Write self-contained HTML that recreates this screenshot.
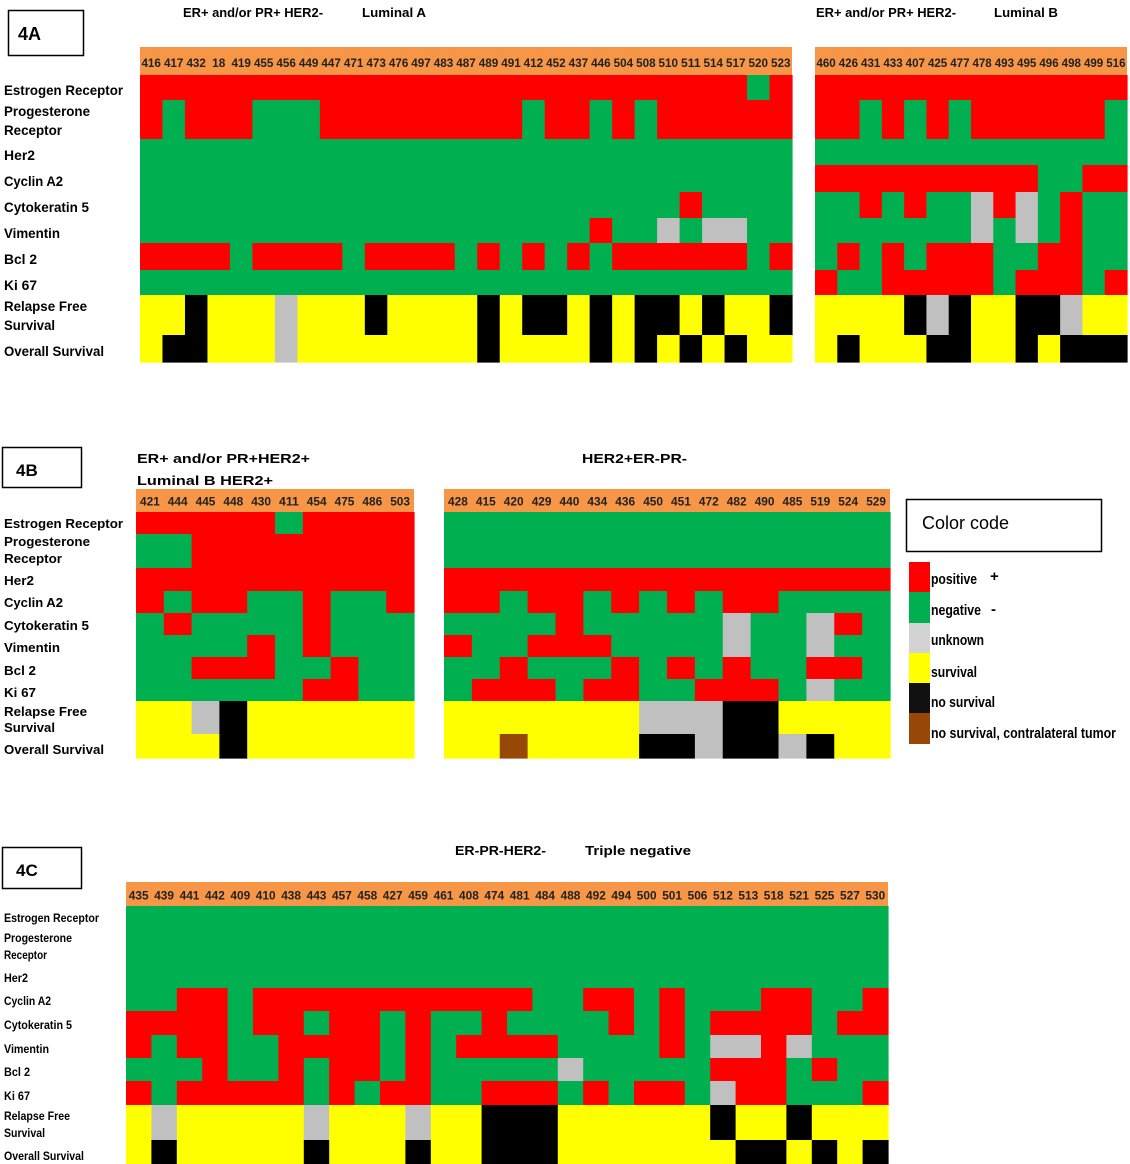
<!DOCTYPE html>
<html><head><meta charset="utf-8">
<style>
html,body{margin:0;padding:0;background:#fff;}
svg{display:block;font-family:"Liberation Sans",Arial,sans-serif;}
</style></head>
<body>
<svg id="s" width="1130" height="1164" viewBox="0 0 1130 1164" xmlns="http://www.w3.org/2000/svg">
<rect width="1130" height="1164" fill="#fff"/>
<!-- boxes -->
<rect x="8.5" y="10.5" width="75" height="45" fill="none" stroke="#000" stroke-width="1.5"/>
<text x="18" y="40" font-size="18" font-weight="bold">4A</text>
<rect x="2.5" y="447.5" width="79" height="40" fill="none" stroke="#000" stroke-width="1.5"/>
<text x="16" y="476" font-size="17" font-weight="bold">4B</text>
<rect x="2.5" y="847.5" width="79" height="41" fill="none" stroke="#000" stroke-width="1.5"/>
<text x="16" y="876" font-size="17" font-weight="bold">4C</text>
<!-- titles -->
<g font-size="13" font-weight="bold">
<text x="183" y="17" textLength="140" lengthAdjust="spacingAndGlyphs">ER+ and/or PR+ HER2-</text>
<text x="362" y="17" textLength="64" lengthAdjust="spacingAndGlyphs">Luminal A</text>
<text x="816" y="17" textLength="140" lengthAdjust="spacingAndGlyphs">ER+ and/or PR+ HER2-</text>
<text x="994" y="17" textLength="64" lengthAdjust="spacingAndGlyphs">Luminal B</text>
<text x="137" y="463" textLength="173" lengthAdjust="spacingAndGlyphs">ER+ and/or PR+HER2+</text>
<text x="137" y="485" textLength="136" lengthAdjust="spacingAndGlyphs">Luminal B HER2+</text>
<text x="582" y="463" textLength="105" lengthAdjust="spacingAndGlyphs">HER2+ER-PR-</text>
<text x="455" y="855" textLength="91" lengthAdjust="spacingAndGlyphs">ER-PR-HER2-</text>
<text x="585" y="855" textLength="106" lengthAdjust="spacingAndGlyphs">Triple negative</text>
</g>
<!-- legend -->
<rect x="906.5" y="499.5" width="195" height="52" fill="none" stroke="#000" stroke-width="1.5"/>
<text x="922" y="529" font-size="18">Color code</text>
<rect x="909" y="562" width="21" height="30" fill="#ff0000"/>
<rect x="909" y="592" width="21" height="31" fill="#00b050"/>
<rect x="909" y="623" width="21" height="30" fill="#d3d3d3"/>
<rect x="909" y="653" width="21" height="30" fill="#ffff00"/>
<rect x="909" y="683" width="21" height="30" fill="#111"/>
<rect x="909" y="713" width="21" height="31" fill="#974706"/>
<g font-size="15" font-weight="bold">
<text x="931" y="584" textLength="46" lengthAdjust="spacingAndGlyphs">positive</text>
<text x="990" y="581">+</text>
<text x="931" y="615" textLength="50" lengthAdjust="spacingAndGlyphs">negative</text>
<text x="991" y="614">-</text>
<text x="931" y="645" textLength="53" lengthAdjust="spacingAndGlyphs">unknown</text>
<text x="931" y="677" textLength="46" lengthAdjust="spacingAndGlyphs">survival</text>
<text x="931" y="707" textLength="64" lengthAdjust="spacingAndGlyphs">no survival</text>
<text x="931" y="738" textLength="185" lengthAdjust="spacingAndGlyphs">no survival, contralateral tumor</text>
</g>
<g id="g"></g>
</svg>
<script>
var C={R:"#ff0000",G:"#00b050",S:"#c0c0c0",Y:"#ffff00",K:"#000000",B:"#974706"};
var out="";
function grid(x0,x1,hy,ys,labels,rows,fs){
  var n=labels.length,w=(x1-x0)/n;
  out+='<rect x="'+x0+'" y="'+hy+'" width="'+(x1-x0)+'" height="'+(ys[0]-hy)+'" fill="#f79646"/>';
  for(var r=0;r<rows.length;r++){
    var s=rows[r];
    for(var c=0;c<n;c++){
      var xa=x0+c*w;
      out+='<rect x="'+xa.toFixed(2)+'" y="'+ys[r]+'" width="'+(w+0.6).toFixed(2)+'" height="'+(ys[r+1]-ys[r]+0.6)+'" fill="'+C[s[c]]+'"/>';
    }
  }
  var ty=hy+(ys[0]-hy)*0.72;
  for(var c=0;c<n;c++){
    var cx=x0+(c+0.5)*w, L=labels[c].length;
    out+='<text x="'+cx.toFixed(1)+'" y="'+ty.toFixed(1)+'" font-size="'+fs+'" font-weight="bold" fill="#222" text-anchor="middle" textLength="'+(Math.min(w-3,L*fs*0.55)).toFixed(1)+'" lengthAdjust="spacingAndGlyphs">'+labels[c]+'</text>';
  }
}
function lab(x,y,t,fs,len){out+='<text x="'+x+'" y="'+y+'" font-size="'+fs+'" font-weight="bold" textLength="'+len+'" lengthAdjust="spacingAndGlyphs">'+t+'</text>';}
var yA=[75,100,139,165,192,218,243,270,295,335,362];
grid(140,792,47,yA,"416 417 432 18 419 455 456 449 447 471 473 476 497 483 487 489 491 412 452 437 446 504 508 510 511 514 517 520 523".split(" "),[
"RRRRRRRRRRRRRRRRRRRRRRRRRRRGR",
"RGRRRGGGRRRRRRRRRGRRGRGRRRRRR",
"GGGGGGGGGGGGGGGGGGGGGGGGGGGGG",
"GGGGGGGGGGGGGGGGGGGGGGGGGGGGG",
"GGGGGGGGGGGGGGGGGGGGGGGGRGGGG",
"GGGGGGGGGGGGGGGGGGGGRGGSGSSGG",
"RRRRGRRRRGRRRRGRGRGRGRRRRRRGR",
"GGGGGGGGGGGGGGGGGGGGGGGGGGGGG",
"YYKYYYSYYYKYYYYKYKKYKYKKYKYYK",
"YKKYYYSYYYYYYYYKYYYYKYKYKYKYY"],12);
grid(815,1127,47,yA,"460 426 431 433 407 425 477 478 493 495 496 498 499 516".split(" "),[
"RRRRRRRRRRRRRR","RRGRGRGRRRRRRG","GGGGGGGGGGGGGG","RRRRRRRRRRGGRR","GGRGRGGSRSGRGG",
"GGGGGGGSGSGRGG","GRGRGRRRGGRRGG","RGGRRRRRGRRRGR","YYYYKSKYYKKSYY","YKYYYKKYYKYKKK"],12);
var yB=[512,534,568,591,613,635,657,679,701,734,758];
grid(136,414,489,yB,"421 444 445 448 430 411 454 475 486 503".split(" "),[
"RRRRRGRRRR","GGRRRRRRRR","RRRRRRRRRR","RGRRGGRGGR","GRGGGGRGGG","GGGGRGRGGG","GGRRRGGRGG","GGGGGGRRGG","YYSKYYYYYY","YYYKYYYYYY"],12);
grid(444,890,489,yB,"428 415 420 429 440 434 436 450 451 472 482 490 485 519 524 529".split(" "),[
"GGGGGGGGGGGGGGGG","GGGGGGGGGGGGGGGG","RRRRRRRRRRRRRRRR","RRGRRGRGRGRRGGGG","GGGGRGGGGGSGGSRG",
"RGGRRRGGGGSGGSGG","GGRGGGRGRGRGGRRG","GRRRGRRGGRRRGSGG","YYYYYYYSSSKKYYYY","YYBYYYYKKSKKSKYY"],12);
var yC=[906,929,965,988,1011,1035,1058,1081,1105,1140,1164];
var G30="GGGGGGGGGGGGGGGGGGGGGGGGGGGGGG";
grid(126,888,882,yC,"435 439 441 442 409 410 438 443 457 458 427 459 461 408 474 481 484 488 492 494 500 501 506 512 513 518 521 525 527 530".split(" "),[
G30,G30,G30,
"GGRRGRRRRRRRRRRRGGRRGRGGGRRGGR",
"RRRRGRRGRRGRGGRGGGGRGRGRRRRGRR",
"RGRRGGRRRRGRGRRRRGGGGRGSSRSGGG",
"GGGRGGRGRRGRGGGGGSGGGGGRRRGRGG",
"RGRRRRRGRGRRGGRRRGRGRRGSRRGGGR",
"YSYYYYYSYYYSYYKKKYYYYYYKYYKYYY",
"YKYYYYYKYYYKYYKKKYYYYYYYKKYKYK"],12);
// row labels
lab(4,95,"Estrogen Receptor",14,119);lab(4,116,"Progesterone",14,86);lab(4,135,"Receptor",14,58);
lab(4,160,"Her2",14,31);lab(4,186,"Cyclin A2",14,59);lab(4,212,"Cytokeratin 5",14,85);
lab(4,238,"Vimentin",14,56);lab(4,264,"Bcl 2",14,33);lab(4,290,"Ki 67",14,33);
lab(4,311,"Relapse Free",14,83);lab(4,330,"Survival",14,51);lab(4,356,"Overall Survival",14,100);
lab(4,528,"Estrogen Receptor",13,119);lab(4,546,"Progesterone",13,86);lab(4,563,"Receptor",13,58);
lab(4,585,"Her2",13,30);lab(4,607,"Cyclin A2",13,59);lab(4,630,"Cytokeratin 5",13,85);
lab(4,652,"Vimentin",13,56);lab(4,675,"Bcl 2",13,32);lab(4,697,"Ki 67",13,32);
lab(4,716,"Relapse Free",13,83);lab(4,732,"Survival",13,51);lab(4,754,"Overall Survival",13,100);
lab(4,922,"Estrogen Receptor",12,95);lab(4,942,"Progesterone",12,68);lab(4,959,"Receptor",12,43);
lab(4,982,"Her2",12,24);lab(4,1005,"Cyclin A2",12,47);lab(4,1029,"Cytokeratin 5",12,68);
lab(4,1053,"Vimentin",12,45);lab(4,1076,"Bcl 2",12,26);lab(4,1100,"Ki 67",12,26);
lab(4,1120,"Relapse Free",12,66);lab(4,1137,"Survival",12,41);lab(4,1160,"Overall Survival",12,80);
document.getElementById("g").innerHTML=out;
</script>
</body></html>
